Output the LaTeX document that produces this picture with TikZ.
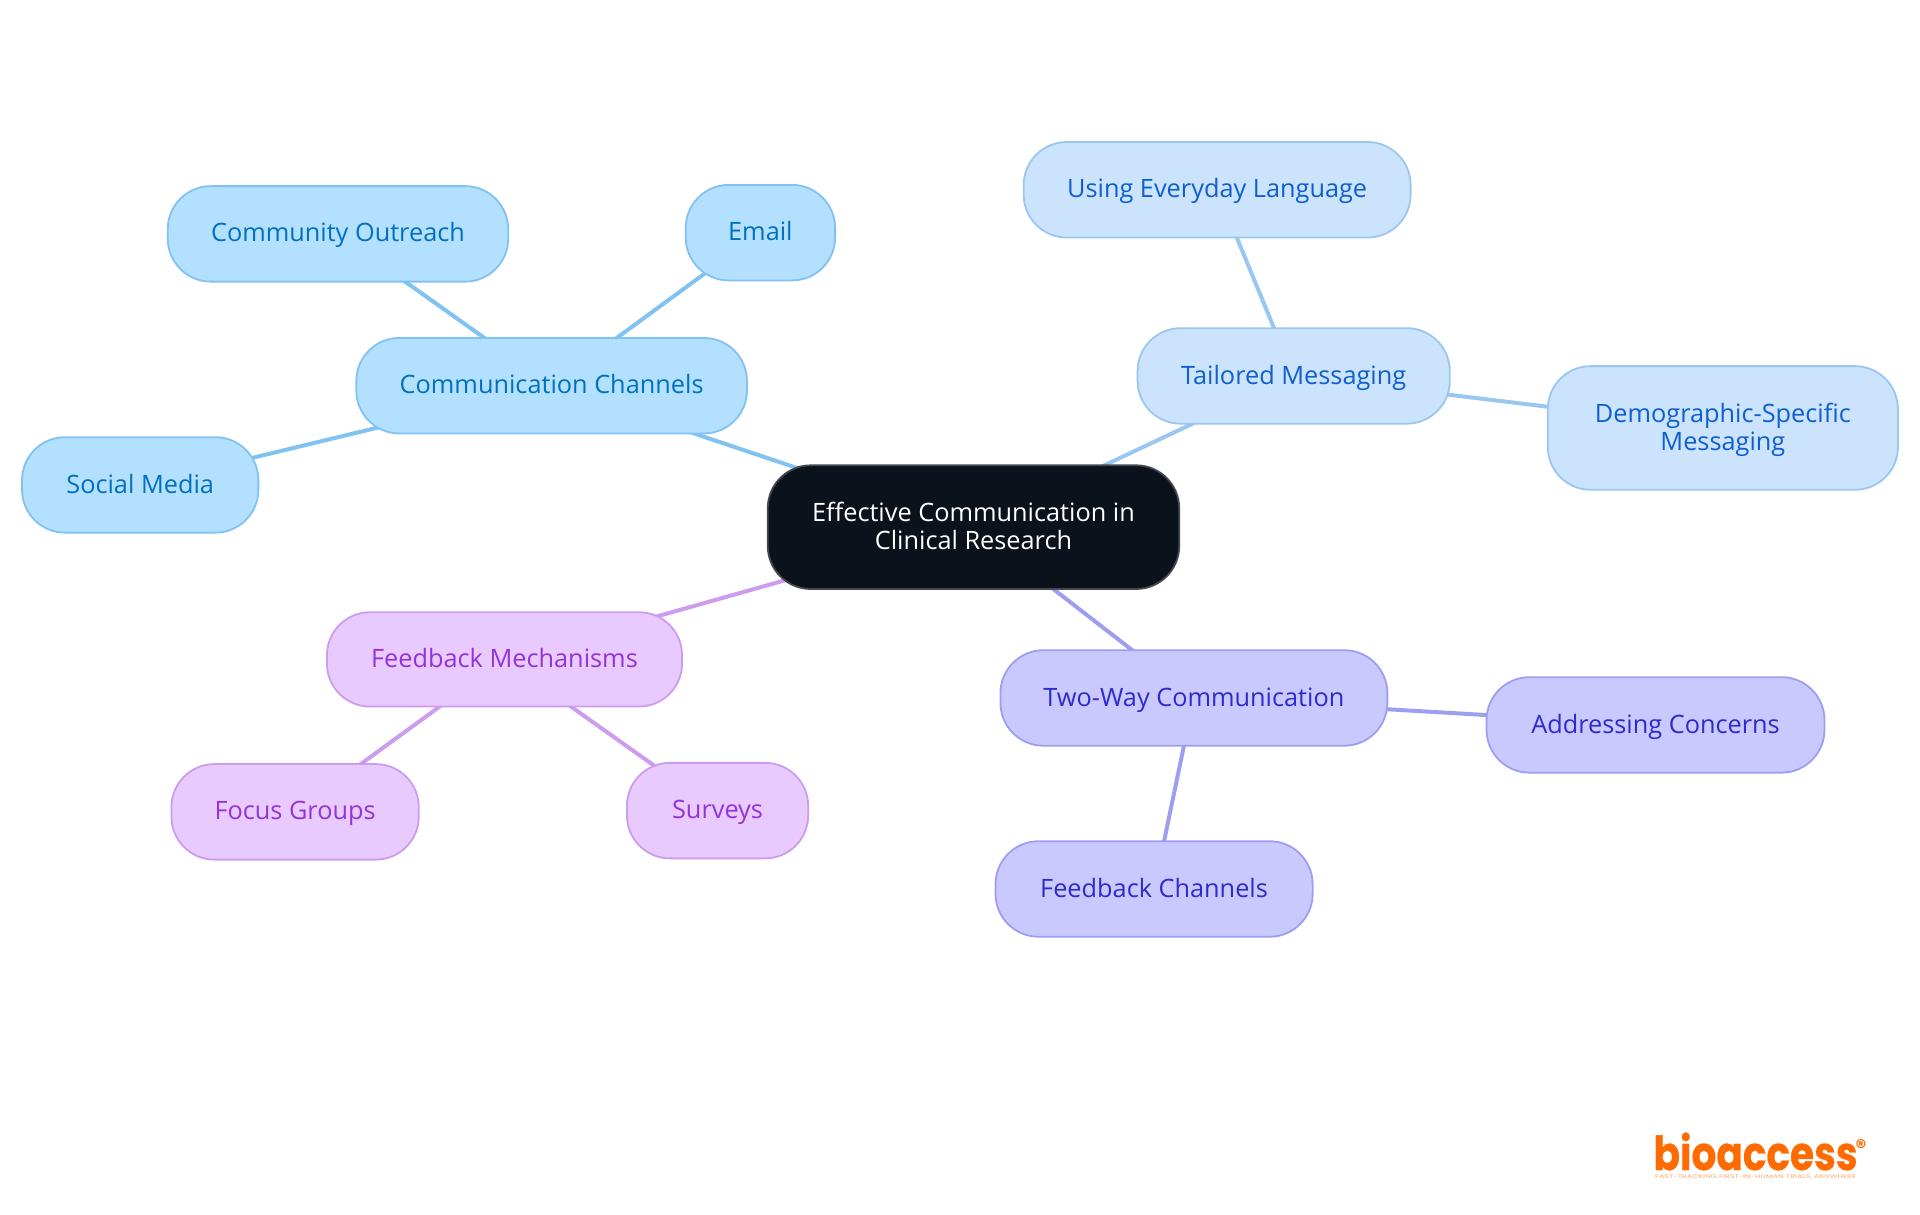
\documentclass[tikz,border=0pt]{standalone}
\usepackage{graphicx}
\usepackage{fontspec}
\setmainfont{Open Sans}
\newfontfamily\logofont{Poppins}[BoldFont={* Bold}]
\usetikzlibrary{backgrounds}
\definecolor{rootfill}{HTML}{0C121B}\definecolor{rootline}{HTML}{45484D}
\definecolor{cfill}{HTML}{B3E0FF}\definecolor{cline}{HTML}{80C2F2}\definecolor{ctext}{HTML}{0070C0}
\definecolor{tfill}{HTML}{CCE3FD}\definecolor{tline}{HTML}{99C7F1}\definecolor{ttext}{HTML}{0F5FCF}
\definecolor{wfill}{HTML}{C9C9FF}\definecolor{wline}{HTML}{9E9EF0}\definecolor{wtext}{HTML}{2E2ACC}
\definecolor{ffill}{HTML}{E8CAFF}\definecolor{fline}{HTML}{CC9CEE}\definecolor{ftext}{HTML}{9333D8}
\definecolor{logoor}{HTML}{FF6B00}
\tikzset{
  x=0.61224pt,y=-0.61224pt,
  mnode/.style={rectangle,rounded corners=21.5pt,line width=0.9pt,inner sep=0pt,align=center,
    text height=9.5pt,text depth=1.4pt,font=\fontsize{12.65}{14}\selectfont},
  twolines/.style={text height=23.5pt},
  cnode/.style={mnode,draw=cline,fill=cfill,text=ctext},
  tnode/.style={mnode,draw=tline,fill=tfill,text=ttext},
  wnode/.style={mnode,draw=wline,fill=wfill,text=wtext},
  fnode/.style={mnode,draw=fline,fill=ffill,text=ftext},
  rootnode/.style={mnode,draw=rootline,fill=rootfill,text=white},
  conn/.style={line width=2pt},
  box/.style 2 args={minimum width=#1*0.61224pt,minimum height=#2*0.61224pt},
}
\begin{document}
\begin{tikzpicture}
\useasboundingbox (0,0) rectangle (1568,992.2);
\node[rootnode,twolines,box={336}{101}] (root) at (795,430.5) {Effective Communication in\\Clinical Research};
\node[cnode,box={319}{78}] (cc) at (450.5,315) {Communication Channels};
\node[cnode,box={278}{78}] (co) at (276,191) {Community Outreach};
\node[cnode,box={122}{78}] (em) at (621,190) {Email};
\node[cnode,box={193}{78}] (sm) at (114.5,396) {Social Media};
\node[tnode,box={255}{78}] (tm) at (1056.5,307) {Tailored Messaging};
\node[tnode,box={316}{78}] (ue) at (994,155) {Using Everyday Language};
\node[tnode,twolines,box={286}{101}] (dm) at (1407,349.5) {Demographic-Specific\\Messaging};
\node[fnode,box={290}{77}] (fm) at (412,538.5) {Feedback Mechanisms};
\node[fnode,box={202}{78}] (fg) at (241,663) {Focus Groups};
\node[fnode,box={148}{78}] (su) at (586,662) {Surveys};
\node[wnode,box={316}{78}] (tw) at (975,570) {Two-Way Communication};
\node[wnode,box={276}{78}] (ac) at (1352,592) {Addressing Concerns};
\node[wnode,box={259}{78}] (fc) at (942.5,726) {Feedback Channels};
\begin{scope}[on background layer]
\draw[conn,cline] (root.center) -- (cc.center);
\draw[conn,cline] (cc.center) -- (co.center);
\draw[conn,cline] (cc.center) -- (em.center);
\draw[conn,cline] (cc.center) -- (sm.center);
\draw[conn,tline] (root.center) -- (tm.center);
\draw[conn,tline] (tm.center) -- (ue.center);
\draw[conn,tline] (tm.center) -- (dm.center);
\draw[conn,fline] (root.center) -- (fm.center);
\draw[conn,fline] (fm.center) -- (fg.center);
\draw[conn,fline] (fm.center) -- (su.center);
\draw[conn,wline] (root.center) -- (tw.center);
\draw[conn,wline] (tw.center) -- (ac.center);
\draw[conn,wline] (tw.center) -- (fc.center);
\end{scope}
\node[inner sep=0pt,anchor=base,text=logoor,font=\logofont\bfseries\fontsize{19.5}{20}\selectfont\addfontfeature{FakeBold=0.6}] (logo) at (1433.7,955.5) {\scalebox{1}[1.2]{bioaccess}};
\node[inner sep=0pt,text=logoor,font=\logofont\bfseries\fontsize{10.5}{11}\selectfont] (logor) at (1519.8,937) {®};
\node[inner sep=0pt,text=logoor!60,font=\logofont\fontsize{2.6}{3}\selectfont] (logot) at (1433.7,961.5) {\scalebox{1.53}[1]{FAST-TRACKING FIRST-IN-HUMAN TRIALS, ANYWHERE}};
\end{tikzpicture}
\end{document}
